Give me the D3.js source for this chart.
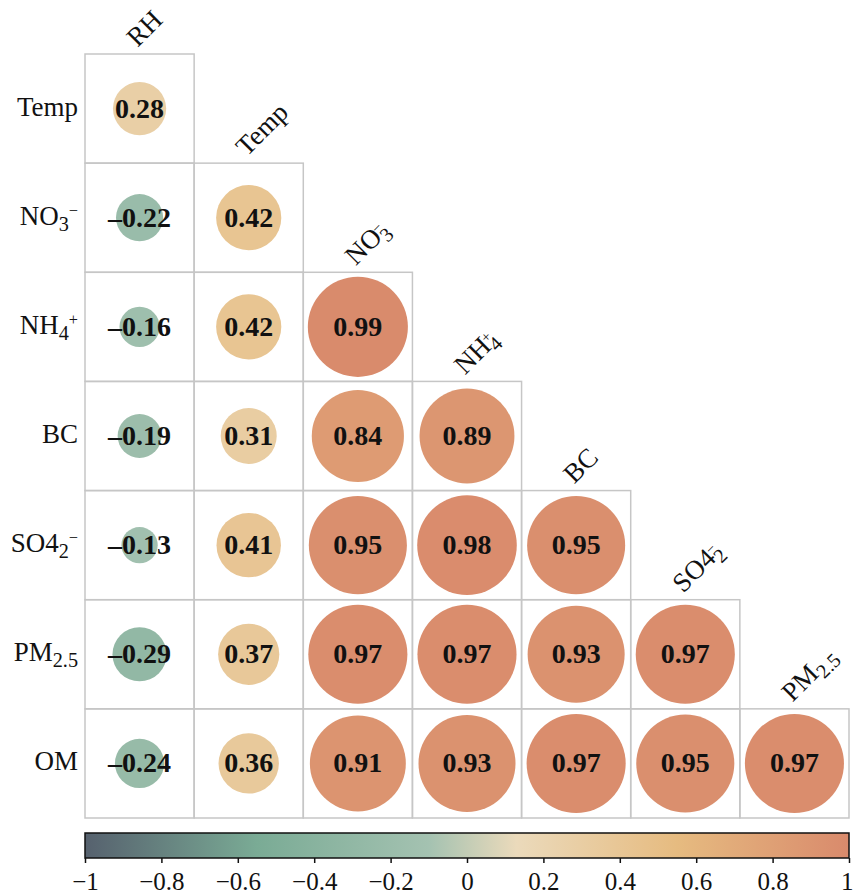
<!DOCTYPE html>
<html>
<head>
<meta charset="utf-8">
<script src="https://cdn.jsdelivr.net/npm/d3@7"></script>
<style>
  body { margin: 0; background: #fff; }
  text { font-family: "Liberation Serif", "DejaVu Serif", serif; fill: #111; }
</style>
</head>
<body>
<div id="chart"></div>
<script>
// variable names (rows skip the first, columns skip the last)
const vars = ['RH', 'Temp', 'NO3', 'NH4', 'BC', 'SO4', 'PM25', 'OM'];
const rowVars = vars.slice(1);
const colVars = vars.slice(0, 7);

// lower triangle correlations, one array per row
const rTemp = [0.28];
const rNO3  = [-0.22, 0.42];
const rNH4  = [-0.16, 0.42, 0.99];
const rBC   = [-0.19, 0.31, 0.84, 0.89];
const rSO4  = [-0.13, 0.41, 0.95, 0.98, 0.95];
const rPM25 = [-0.29, 0.37, 0.97, 0.97, 0.93, 0.97];
const rOM   = [-0.24, 0.36, 0.91, 0.93, 0.97, 0.95, 0.97];
const rows = [rTemp, rNO3, rNH4, rBC, rSO4, rPM25, rOM];

// colormap stops
const cStops = [-1, -0.55, -0.1, 0.13, 0.55, 1];
const cColors = ['#56616e', '#7aab95', '#a4c2b1', '#ebdabb', '#e6bb80', '#d98a6c'];
const cbTicks = [-1, -0.8, -0.6, -0.4, -0.2, 0, 0.2, 0.4, 0.6, 0.8, 1];

// label pieces: [text, kind] where kind is '', 'sub', 'sup'
const rowLabel = {
  Temp: [['Temp', '']],
  NO3: [['NO', ''], ['3', 'sub'], ['\u2212', 'sup']],
  NH4: [['NH', ''], ['4', 'sub'], ['+', 'sup']],
  BC: [['BC', '']],
  SO4: [['SO4', ''], ['2', 'sub'], ['\u2212', 'sup']],
  PM25: [['PM', ''], ['2.5', 'sub']],
  OM: [['OM', '']]
};
const colLabel = {
  RH: [['RH', '']],
  Temp: [['Temp', '']],
  NO3: [['NO', ''], ['3', 'sub'], ['\u2212', 'supback']],
  NH4: [['NH', ''], ['4', 'sub'], ['+', 'supback']],
  BC: [['BC', '']],
  SO4: [['SO4', ''], ['2', 'sub'], ['\u2212', 'supback']],
  PM25: [['PM', ''], ['2.5', 'sub']]
};

const dims = { width: 853, height: 894, left: 85, right: 849, top: 54, bottom: 818 };

const svg = d3.select('#chart').append('svg')
  .attr('width', dims.width)
  .attr('height', dims.height);

const x = d3.scaleBand().domain(colVars).range([dims.left, dims.right]);
const y = d3.scaleBand().domain(rowVars).range([dims.top, dims.bottom]);
const rScale = d3.scaleSqrt().domain([0, 1]).range([0, 50.3]);
const color = d3.scaleLinear().domain(cStops).range(cColors).interpolate(d3.interpolateRgb);

const cells = [];
rows.forEach((vals, i) => {
  vals.forEach((v, j) => cells.push({ row: rowVars[i], col: colVars[j], v: v }));
});

// cell borders
svg.append('g').selectAll('rect')
  .data(cells)
  .join('rect')
  .attr('x', d => x(d.col))
  .attr('y', d => y(d.row))
  .attr('width', x.bandwidth())
  .attr('height', y.bandwidth())
  .attr('fill', 'none')
  .attr('stroke', '#c6c6c6')
  .attr('stroke-width', 1.5);

// circles
svg.append('g').selectAll('circle')
  .data(cells)
  .join('circle')
  .attr('cx', d => x(d.col) + x.bandwidth() / 2)
  .attr('cy', d => y(d.row) + y.bandwidth() / 2)
  .attr('r', d => rScale(Math.abs(d.v)))
  .attr('fill', d => color(d.v));

// values
svg.append('g').selectAll('text')
  .data(cells)
  .join('text')
  .attr('x', d => x(d.col) + x.bandwidth() / 2)
  .attr('y', d => y(d.row) + y.bandwidth() / 2 + 9)
  .attr('text-anchor', 'middle')
  .style('font-weight', 'bold')
  .style('font-size', '28px')
  .text(d => (d.v < 0 ? '\u2013' : '') + Math.abs(d.v).toFixed(2));

function addPieces(t, pieces, size) {
  pieces.forEach(([s, kind]) => {
    const ts = t.append('tspan').text(s);
    if (kind === 'sub') ts.attr('dy', size * 0.22).style('font-size', (size * 0.75) + 'px');
    if (kind === 'sup') ts.attr('dy', -size * 0.55).style('font-size', (size * 0.6) + 'px');
    if (kind === 'supback') ts.attr('dy', -size * 0.5).attr('dx', -size * 0.42).style('font-size', (size * 0.55) + 'px');
  });
}

// row labels
rowVars.forEach(v => {
  const t = svg.append('text')
    .attr('x', 78)
    .attr('y', y(v) + y.bandwidth() / 2 + 7)
    .attr('text-anchor', 'end')
    .style('font-size', '27px');
  addPieces(t, rowLabel[v], 27);
});

// column labels, rotated above the top cell of each column
colVars.forEach((v, j) => {
  const cx = x(v) + x.bandwidth() / 2 - 2;
  const top = y(rowVars[j]) - 6;
  const t = svg.append('text')
    .attr('transform', `translate(${cx},${top}) rotate(-45)`)
    .style('font-size', '27px');
  addPieces(t, colLabel[v], 27);
});

// colorbar
const cb = { top: 833, height: 25 };
const cbScale = d3.scaleLinear().domain([-1, 1]).range([dims.left, dims.right]);
const grad = svg.append('defs').append('linearGradient')
  .attr('id', 'cbGrad')
  .attr('x1', '0%').attr('x2', '100%').attr('y1', '0%').attr('y2', '0%');
grad.selectAll('stop')
  .data(cStops)
  .join('stop')
  .attr('offset', d => ((d + 1) / 2 * 100) + '%')
  .attr('stop-color', d => color(d));

svg.append('rect')
  .attr('x', cbScale(-1))
  .attr('y', cb.top)
  .attr('width', cbScale(1) - cbScale(-1))
  .attr('height', cb.height)
  .attr('fill', 'url(#cbGrad)')
  .attr('stroke', '#111')
  .attr('stroke-width', 1.5);

const cbAxis = d3.axisBottom(cbScale)
  .tickValues(cbTicks)
  .tickSize(5)
  .tickFormat(d => d === 0 ? '0' : (d < 0 ? '\u2212' : '') + d3.format('')(Math.abs(d)));

const axG = svg.append('g')
  .attr('transform', `translate(0,${cb.top + cb.height})`)
  .call(cbAxis);
axG.select('.domain').remove();
axG.selectAll('.tick line').attr('stroke', '#111').attr('stroke-width', 1.5);
axG.selectAll('.tick text')
  .attr('y', 14)
  .style('font-family', '"Liberation Serif", serif')
  .style('font-size', '25px')
  .attr('fill', '#111');
// keep the last label inside the page
axG.selectAll('.tick text').filter(d => d === 1).attr('text-anchor', 'end').attr('dx', 4);
</script>
</body>
</html>
